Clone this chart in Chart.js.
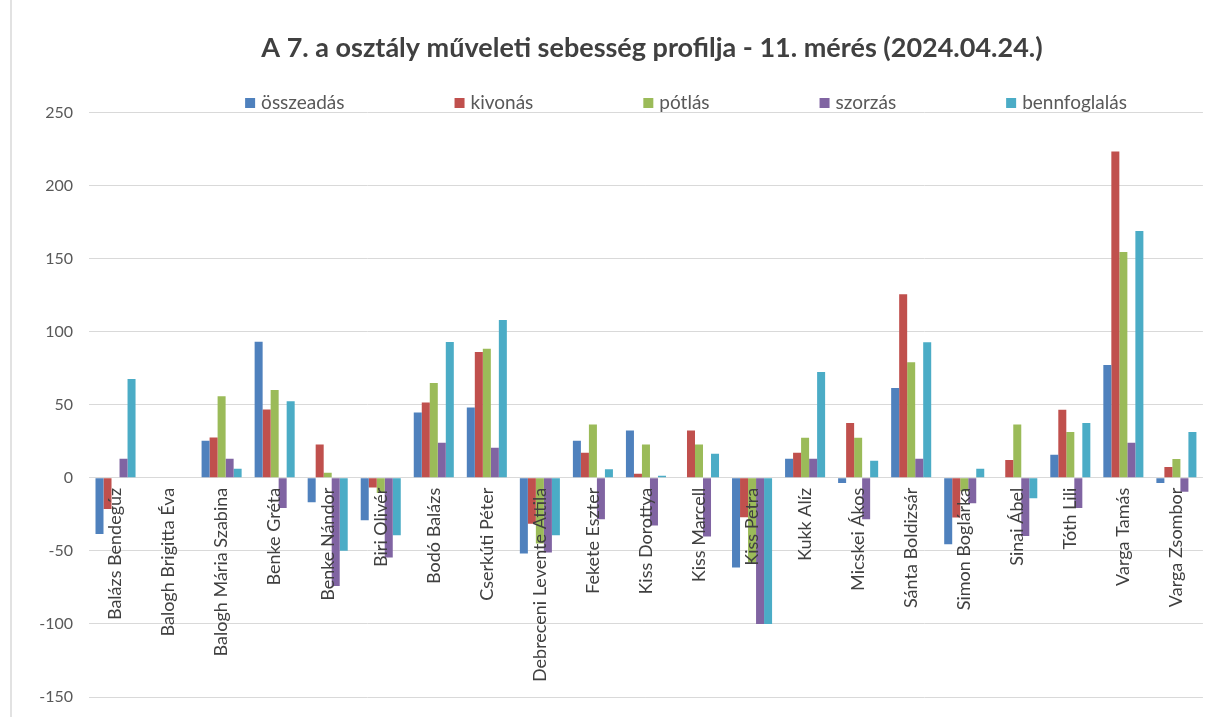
<!DOCTYPE html>
<html>
<head>
<meta charset="utf-8">
<script src="https://cdn.jsdelivr.net/npm/chart.js@4"></script>
<style>
  html, body { margin: 0; padding: 0; background: #fff; overflow: hidden; }
  #wrap { width: 1208px; height: 717px; }
</style>
</head>
<body>
<div id="wrap"><canvas id="chart" width="1208" height="717"></canvas></div>
<script>
// tanulók (kategóriák)
const students = [
  'Balázs Bendegúz', 'Balogh Brigitta Éva', 'Balogh Mária Szabina', 'Benke Gréta',
  'Benke Nándor', 'Biri Olivér', 'Bodó Balázs', 'Cserkúti Péter',
  'Debreceni Levente Attila', 'Fekete Eszter', 'Kiss Dorottya', 'Kiss Marcell',
  'Kiss Petra', 'Kukk Alíz', 'Micskei Ákos', 'Sánta Boldizsár',
  'Simon Boglárka', 'Sinai Ábel', 'Tóth Lili', 'Varga Tamás', 'Varga Zsombor'
];

// series values
const osszeadas = [-38.5, 0, 25.4, 93, -16.7, -29.1, 44.6, 48.1, -51.8, 25.4, 32.3, 0, -61.4, 13, -3.5, 61.4, -45.4, 0, 15.7, 77.1, -3.5];
const kivonas = [-21.3, 0, 27.5, 46.7, 22.7, -6.6, 51.5, 86.1, -31.5, 17.2, 2.7, 32.3, -27, 17.2, 37.4, 125.5, -27.2, 12.2, 46.6, 223.2, 7.3];
const potlas = [0, 0, 55.8, 60, 3.4, -10.5, 64.8, 88.2, -45, 36.4, 22.7, 22.7, -58, 27.4, 27.4, 79.1, -9.2, 36.4, 31.4, 154.4, 12.8];
const szorzas = [13, 0, 13, -20.6, -74, -54.5, 24, 20.6, -51.1, -28.4, -32.6, -40.1, -100, 13, -28.4, 13, -17.5, -39.9, -20.7, 24, -9.6];
const bennfoglalas = [67.5, 0, 6.2, 52.4, -50, -39.4, 92.9, 108, -39.4, 5.9, 1.4, 16.5, -100, 72.3, 11.7, 92.8, 6.2, -14, 37.4, 168.8, 31.3];

const seriesNames = ['összeadás', 'kivonás', 'pótlás', 'szorzás', 'bennfoglalás'];
const seriesColors = ['#4F81BD', '#C0504D', '#9BBB59', '#8064A2', '#4BACC6'];
const yTicks = { min: -150, max: 250, step: 50 };

const chartTitle = 'A 7. a osztály műveleti sebesség profilja - 11. mérés (2024.04.24.)';

// center title and legend like excel did (the chart was cropped on the right)
const moveTitle = {
  id: 'moveTitle',
  afterLayout(chart) {
    const t = chart.titleBlock;
    const dx = 652 - (t.left + t.right) / 2;
    t.left += dx;
    t.right += dx;
  }
};

const legendRow = {
  id: 'legendRow',
  afterDraw(chart) {
    const ctx = chart.ctx;
    ctx.save();
    ctx.font = '19px Lato';
    ctx.textBaseline = 'middle';
    const box = 10, gap = 6, space = 110;
    const items = chart.data.datasets.map(ds => ({
      text: ds.label,
      color: ds.backgroundColor,
      w: box + gap + ctx.measureText(ds.label).width
    }));
    const total = items.reduce((s, it) => s + it.w, 0) + space * (items.length - 1);
    let x = 686 - total / 2;
    const y = 103;
    items.forEach(it => {
      ctx.fillStyle = it.color;
      ctx.fillRect(x, y - 5, box, box);
      ctx.fillStyle = '#595959';
      ctx.fillText(it.text, x + box + gap, y);
      x += it.w + space;
    });
    ctx.restore();
  }
};

const frameLine = {
  id: 'frameLine',
  beforeDraw(chart) {
    const ctx = chart.ctx;
    ctx.save();
    ctx.strokeStyle = '#d9d9d9';
    ctx.lineWidth = 1.5;
    ctx.beginPath();
    ctx.moveTo(11, 0);
    ctx.lineTo(11, chart.height);
    ctx.stroke();
    ctx.restore();
  }
};

const ctx1 = document.getElementById('chart').getContext('2d');
const chart = new Chart(ctx1, {
  type: 'bar',
  data: {
    labels: students,
    datasets: [osszeadas, kivonas, potlas, szorzas, bennfoglalas].map((vals, i) => ({
      label: seriesNames[i],
      data: vals,
      backgroundColor: seriesColors[i],
      borderWidth: 0,
      barPercentage: 1,
      categoryPercentage: 0.755
    }))
  },
  options: {
    responsive: false,
    animation: false,
    layout: { padding: { left: 10, right: -2, top: 0, bottom: 20 } },
    plugins: {
      legend: { display: false },
      tooltip: { enabled: false },
      title: {
        display: true,
        text: chartTitle,
        color: '#404040',
        font: { family: 'Lato', size: 27, weight: 'bold' },
        padding: { top: 32, bottom: 48 }
      }
    },
    scales: {
      x: {
        position: { y: 0 },
        grid: { display: false, drawTicks: false },
        border: { display: false },
        ticks: {
          z: 1,
          autoSkip: false,
          minRotation: 90,
          maxRotation: 90,
          padding: 10,
          color: '#404040',
          font: { family: 'Lato', size: 18 }
        }
      },
      y: {
        min: yTicks.min,
        max: yTicks.max,
        afterFit: s => {
          s.width = 79;
          s.paddingBottom = 0;
        },
        grid: { color: '#d9d9d9', lineWidth: 1, drawTicks: false },
        border: { display: false },
        ticks: {
          stepSize: yTicks.step,
          padding: 16,
          color: '#595959',
          font: { family: 'Lato', size: 16 }
        }
      }
    }
  },
  plugins: [moveTitle, legendRow, frameLine]
});
</script>
</body>
</html>
